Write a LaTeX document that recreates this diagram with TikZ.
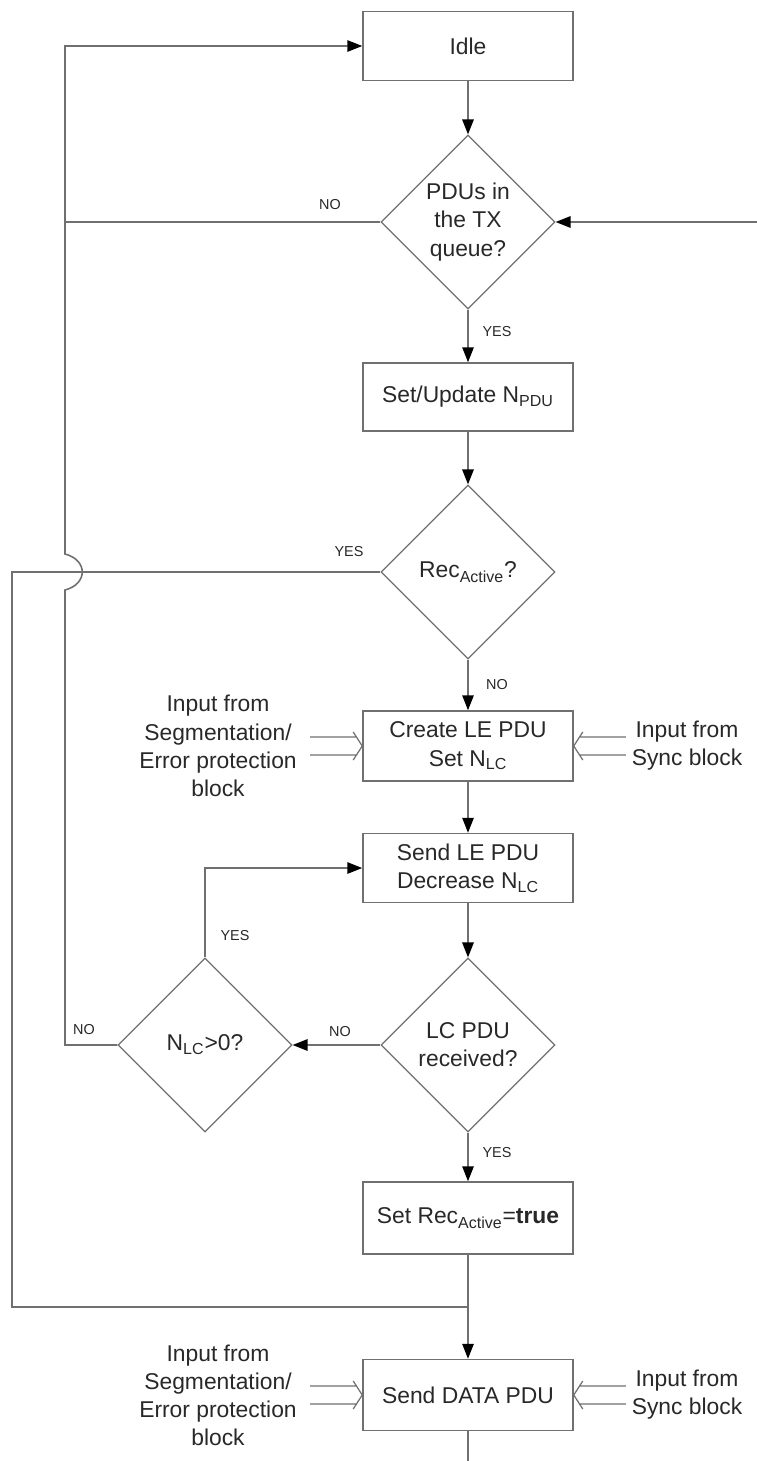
\documentclass[tikz,border=0pt]{standalone}
\usepackage{fontspec}
\setmainfont{Liberation Sans}
\usetikzlibrary{arrows.meta, shapes.geometric}

\definecolor{linegray}{RGB}{112,112,112}
\definecolor{textgray}{RGB}{40,40,40}
\newcommand{\lsub}[1]{\textsubscript{#1}}

\tikzset{
    pics/inarrow/.style={code={
        \draw[draw=linegray, line width=0.7pt]
            (-52,-9) -- (-5.8,-9)
            (-52,9) -- (-5.8,9)
            (-9,-14) -- (0,0) -- (-9,14);
    }}
}

\begin{document}
\begin{tikzpicture}[
    x=0.02cm, y=-0.02cm,
    every node/.style={text=textgray},
    process box/.style={
        rectangle,
        draw=linegray,
        line width=0.9pt,
        minimum width=4.2cm,
        minimum height=1.38cm,
        align=center,
        font=\fontsize{13}{16}\selectfont
    },
    decision/.style={
        diamond,
        draw=linegray,
        line width=0.7pt,
        minimum width=3.48cm,
        minimum height=3.48cm,
        inner sep=0pt,
        align=center,
        font=\fontsize{13}{16}\selectfont
    },
    flow/.style={draw=linegray, line width=0.9pt},
    arr/.style={flow, -{Triangle[length=8.5pt,width=6.5pt,color=black]}},
    branch/.style={font=\fontsize{8.2}{10}\selectfont},
    side text/.style={align=center, font=\fontsize{13}{16}\selectfont}
]
    \useasboundingbox (0,0) rectangle (757,1461);

    % main column
    \node[process box, minimum height=1.38cm] (idle) at (468,46) {Idle};
    \node[decision] (q1) at (468,222) {PDUs in\\the TX\\queue?};
    \node[process box, minimum height=1.36cm] (npdu) at (468,397) {Set/Update N\lsub{PDU}};
    \node[decision] (rec) at (468,572) {Rec\lsub{Active}?};
    \node[process box, minimum height=1.4cm] (create) at (468,746) {Create LE PDU\\Set N\lsub{LC}};
    \node[process box] (sendle) at (468,868) {Send LE PDU\\Decrease N\lsub{LC}};
    \node[decision] (lc) at (468,1045) {LC PDU\\received?};
    \node[decision] (nlc) at (205,1045) {N\lsub{LC}>0?};
    \node[process box, minimum height=1.44cm] (setrec) at (468,1218) {Set Rec\lsub{Active}=\textbf{true}};
    \node[process box, minimum height=1.42cm] (senddata) at (468,1395) {Send DATA PDU};

    % inputs
    \node[side text] (segin1) at (218,746) {Input from\\Segmentation/\\Error protection\\block};
    \node[side text] (syncin1) at (687,746) {Input from\\Sync block};
    \node[side text] (segin2) at (218,1395) {Input from\\Segmentation/\\Error protection\\block};
    \node[side text] (syncin2) at (687,1395) {Input from\\Sync block};

    % branch labels
    \node[branch] (noq1) at (330,205) {NO};
    \node[branch] (yesq1) at (497,332) {YES};
    \node[branch] (yesrec) at (349,552) {YES};
    \node[branch] (norec) at (497,685) {NO};
    \node[branch] (yesnlc) at (235,936) {YES};
    \node[branch] (nolc) at (340,1032) {NO};
    \node[branch] (nonlc) at (84,1030) {NO};
    \node[branch] (yeslc) at (497,1153) {YES};

    \coordinate (loopin) at (757,222);
    \coordinate (exit) at (468,1461);

    % connectors
    \draw[arr] (idle) -- (q1);
    \draw[arr] (q1) -- (npdu);
    \draw[arr] (npdu) -- (rec);
    \draw[arr] (rec) -- (create);
    \draw[arr] (create) -- (sendle);
    \draw[arr] (sendle) -- (lc);
    \draw[arr] (lc) -- (setrec);
    \draw[arr] (setrec) -- (senddata);
    \draw[flow] (senddata) -- (exit);
    \draw[arr] (loopin) -- (q1.east);
    \draw[flow] (q1.west) -- (65,222);
    \draw[arr] (lc.west) -- (nlc.east);
    \draw[arr] (nlc.north) |- (sendle.west);
    \draw[arr] (nlc.west) -- (65,1045) -- (65,590) .. controls (88,584) and (88,560) .. (65,554) |- (idle.west);
    \draw[flow] (rec.west) -- (12,572) |- (468,1307);

    % double input arrows
    \pic at (create.west) {inarrow};
    \pic[rotate=180] at (create.east) {inarrow};
    \pic at (senddata.west) {inarrow};
    \pic[rotate=180] at (senddata.east) {inarrow};
\end{tikzpicture}
\end{document}
